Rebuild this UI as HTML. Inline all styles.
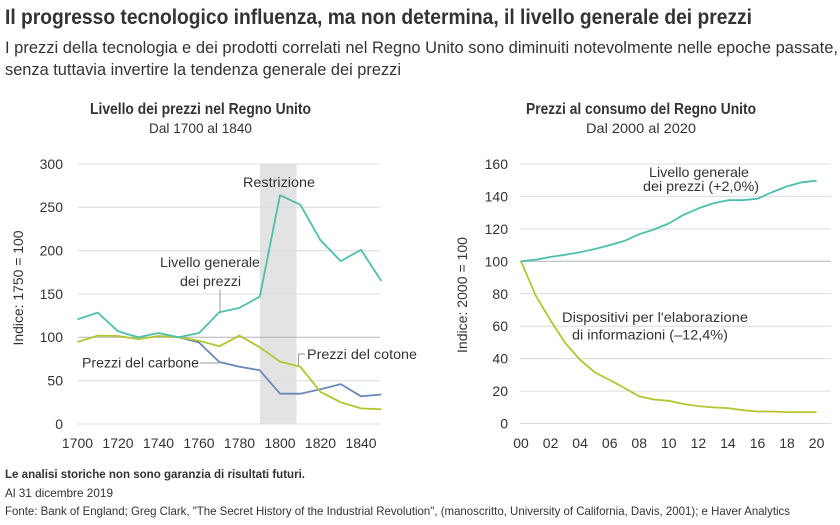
<!DOCTYPE html>
<html>
<head>
<meta charset="utf-8">
<style>
  html, body { margin:0; padding:0; background:#ffffff; }
  svg { display:block; }
  text { font-family: "Liberation Sans Narrow", "Liberation Sans", sans-serif; fill:#333333; }
  .b { font-weight:bold; }
</style>
</head>
<body>
<svg width="840" height="525" viewBox="0 0 840 525" xmlns="http://www.w3.org/2000/svg">
  <rect width="840" height="525" fill="#ffffff"/>

  <!-- Headline -->
  <text x="5" y="24" font-size="21" class="b" fill="#222" textLength="747" lengthAdjust="spacingAndGlyphs">Il progresso tecnologico influenza, ma non determina, il livello generale dei prezzi</text>
  <text x="5" y="53" font-size="17" textLength="833" lengthAdjust="spacingAndGlyphs">I prezzi della tecnologia e dei prodotti correlati nel Regno Unito sono diminuiti notevolmente nelle epoche passate,</text>
  <text x="5" y="75" font-size="17" textLength="396" lengthAdjust="spacingAndGlyphs">senza tuttavia invertire la tendenza generale dei prezzi</text>

  <!-- Chart titles -->
  <text x="90" y="114" font-size="16" class="b" fill="#222" textLength="221" lengthAdjust="spacingAndGlyphs">Livello dei prezzi nel Regno Unito</text>
  <text x="149" y="133" font-size="14" textLength="103" lengthAdjust="spacingAndGlyphs">Dal 1700 al 1840</text>
  <text x="526" y="114" font-size="16" class="b" fill="#222" textLength="230" lengthAdjust="spacingAndGlyphs">Prezzi al consumo del Regno Unito</text>
  <text x="586" y="133" font-size="14" textLength="110" lengthAdjust="spacingAndGlyphs">Dal 2000 al 2020</text>

  <!-- LEFT CHART -->
  <rect x="260" y="164" width="36.5" height="260" fill="#e3e3e3"/>
  <g stroke="#dcdcdc" stroke-width="1">
    <line x1="78" y1="164" x2="380" y2="164"/>
    <line x1="78" y1="207.3" x2="380" y2="207.3"/>
    <line x1="78" y1="250.7" x2="380" y2="250.7"/>
    <line x1="78" y1="294" x2="380" y2="294"/>
    <line x1="78" y1="380.7" x2="380" y2="380.7"/>
    <line x1="78" y1="424" x2="380" y2="424"/>
  </g>
  <line x1="78" y1="337.3" x2="380" y2="337.3" stroke="#b3b3b3" stroke-width="1"/>

  <g font-size="14" text-anchor="end">
    <text x="63" y="169">300</text>
    <text x="63" y="212">250</text>
    <text x="63" y="255.5">200</text>
    <text x="63" y="299">150</text>
    <text x="63" y="342">100</text>
    <text x="63" y="385.5">50</text>
    <text x="63" y="429">0</text>
  </g>
  <text transform="translate(23,288) rotate(-90)" font-size="14" text-anchor="middle" textLength="115" lengthAdjust="spacingAndGlyphs">Indice: 1750 = 100</text>

  <g font-size="14" text-anchor="middle">
    <text x="77.5" y="448">1700</text>
    <text x="118" y="448">1720</text>
    <text x="158.5" y="448">1740</text>
    <text x="199" y="448">1760</text>
    <text x="239.5" y="448">1780</text>
    <text x="280" y="448">1800</text>
    <text x="320.5" y="448">1820</text>
    <text x="361" y="448">1840</text>
  </g>

  <!-- leader lines -->
  <g stroke="#9a9a9a" stroke-width="1" fill="none">
    <line x1="220" y1="290" x2="220" y2="312"/>
    <line x1="200" y1="363" x2="219" y2="363"/>
    <polyline points="305,354 298.5,354 298.5,366"/>
  </g>

  <!-- series -->
  <polyline fill="none" stroke="#6c87b8" stroke-width="1.8" stroke-linejoin="round"
    points="178.8,337.3 199,342.5 219.3,362 239.5,366.8 259.8,370.3 280,393.7 300.3,393.7 320.5,389.3 340.8,384.1 361,396.3 381.3,394.5"/>
  <polyline fill="none" stroke="#b3c62f" stroke-width="1.8" stroke-linejoin="round"
    points="77.5,342 97.75,335.6 118,336 138.3,339.1 158.5,336 178.8,337.3 199,340.8 219.3,346.3 239.5,335.6 259.8,347.3 280,361.6 300.3,366.8 320.5,391.9 340.8,402.3 361,408.4 381.3,409.3"/>
  <polyline fill="none" stroke="#4cbfae" stroke-width="1.8" stroke-linejoin="round"
    points="77.5,319.3 97.75,312.6 118,331.3 138.3,337.3 158.5,333 178.8,337.3 199,333 219.3,312.2 239.5,307.9 259.8,296.6 280,195.2 300.3,204.7 320.5,240.3 340.8,261.1 361,249.8 381.3,281"/>

  <g font-size="14">
    <text x="243" y="187" textLength="72" lengthAdjust="spacingAndGlyphs">Restrizione</text>
    <text x="160" y="267" textLength="100" lengthAdjust="spacingAndGlyphs">Livello generale</text>
    <text x="180" y="286" textLength="61" lengthAdjust="spacingAndGlyphs">dei prezzi</text>
    <text x="82" y="367.5" textLength="117" lengthAdjust="spacingAndGlyphs">Prezzi del carbone</text>
    <text x="307" y="359" textLength="110" lengthAdjust="spacingAndGlyphs">Prezzi del cotone</text>
  </g>

  <!-- RIGHT CHART -->
  <g stroke="#dcdcdc" stroke-width="1">
    <line x1="520" y1="164" x2="831" y2="164"/>
    <line x1="520" y1="196.4" x2="831" y2="196.4"/>
    <line x1="520" y1="228.9" x2="831" y2="228.9"/>
    <line x1="520" y1="293.8" x2="831" y2="293.8"/>
    <line x1="520" y1="326.2" x2="831" y2="326.2"/>
    <line x1="520" y1="358.6" x2="831" y2="358.6"/>
    <line x1="520" y1="391.1" x2="831" y2="391.1"/>
    <line x1="520" y1="423.5" x2="831" y2="423.5"/>
  </g>
  <line x1="520" y1="261.3" x2="831" y2="261.3" stroke="#b3b3b3" stroke-width="1"/>

  <g font-size="14" text-anchor="end">
    <text x="508" y="169">160</text>
    <text x="508" y="201.4">140</text>
    <text x="508" y="233.9">120</text>
    <text x="508" y="266.3">100</text>
    <text x="508" y="298.8">80</text>
    <text x="508" y="331.2">60</text>
    <text x="508" y="363.6">40</text>
    <text x="508" y="396.1">20</text>
    <text x="508" y="428.5">0</text>
  </g>
  <text transform="translate(467,295) rotate(-90)" font-size="14" text-anchor="middle" textLength="116" lengthAdjust="spacingAndGlyphs">Indice: 2000 = 100</text>

  <g font-size="14" text-anchor="middle">
    <text x="521" y="448">00</text>
    <text x="550.6" y="448">02</text>
    <text x="580.1" y="448">04</text>
    <text x="609.7" y="448">06</text>
    <text x="639.2" y="448">08</text>
    <text x="668.8" y="448">10</text>
    <text x="698.4" y="448">12</text>
    <text x="727.9" y="448">14</text>
    <text x="757.5" y="448">16</text>
    <text x="787" y="448">18</text>
    <text x="816.6" y="448">20</text>
  </g>

  <polyline fill="none" stroke="#b3c62f" stroke-width="1.8" stroke-linejoin="round"
    points="521,261.3 535.8,295.7 550.6,320.5 565.3,343.2 580.1,359.9 594.9,372.4 609.7,380 624.5,388 639.2,396.4 654,399.5 668.8,400.8 683.6,404 698.4,406.1 713.1,407.4 727.9,408.1 742.7,410.2 757.5,411.5 772.3,411.5 787,412.1 801.8,412.1 816.6,412.1"/>
  <polyline fill="none" stroke="#4cbfae" stroke-width="1.8" stroke-linejoin="round"
    points="521,261.3 535.8,259.7 550.6,256.9 565.3,254.8 580.1,252.2 594.9,249 609.7,245.1 624.5,240.9 639.2,234.2 654,229.5 668.8,223.5 683.6,214.8 698.4,208.4 713.1,203.4 727.9,200.2 742.7,200.2 757.5,198.7 772.3,192.1 787,186.4 801.8,182.3 816.6,180.7"/>

  <g font-size="14">
    <text x="649" y="177" textLength="100" lengthAdjust="spacingAndGlyphs">Livello generale</text>
    <text x="643" y="191" textLength="116" lengthAdjust="spacingAndGlyphs">dei prezzi (+2,0%)</text>
    <text x="562" y="322" textLength="186" lengthAdjust="spacingAndGlyphs">Dispositivi per l'elaborazione</text>
    <text x="572" y="339.5" textLength="156" lengthAdjust="spacingAndGlyphs">di informazioni (–12,4%)</text>
  </g>

  <!-- Footer -->
  <text x="5" y="478" font-size="12" class="b" fill="#222" textLength="300" lengthAdjust="spacingAndGlyphs">Le analisi storiche non sono garanzia di risultati futuri.</text>
  <text x="5" y="497" font-size="12" textLength="108" lengthAdjust="spacingAndGlyphs">Al 31 dicembre 2019</text>
  <text x="5" y="515" font-size="12" textLength="785" lengthAdjust="spacingAndGlyphs">Fonte: Bank of England; Greg Clark, "The Secret History of the Industrial Revolution", (manoscritto, University of California, Davis, 2001); e Haver Analytics</text>
</svg>
</body>
</html>
